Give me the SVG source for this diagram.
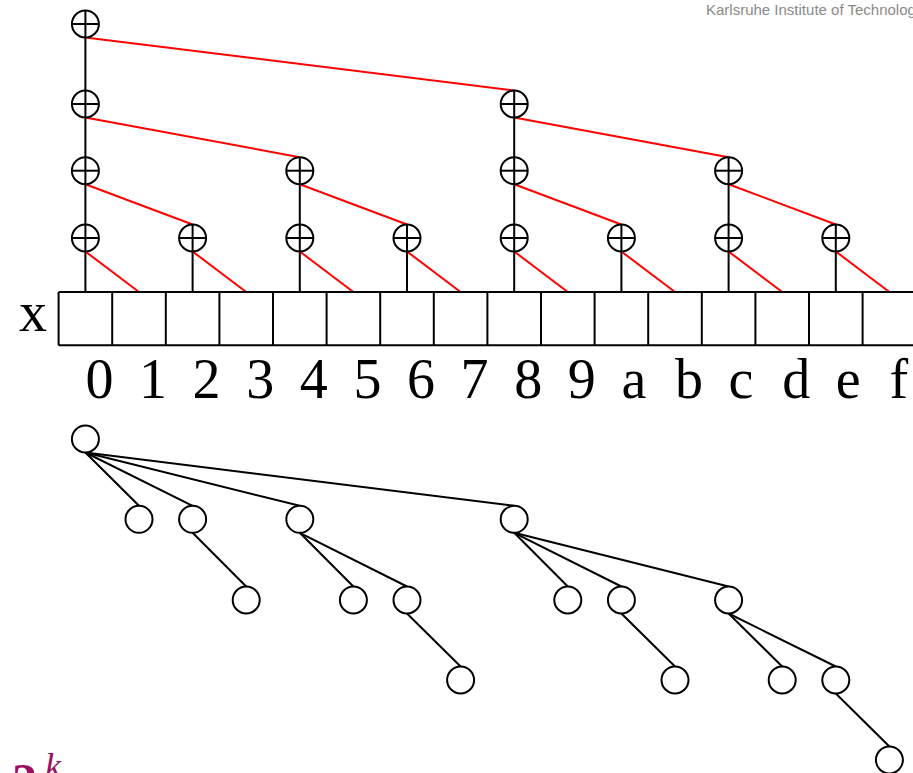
<svg xmlns="http://www.w3.org/2000/svg" width="913" height="773" viewBox="0 0 913 773">
<style>
.blk{stroke:#000;stroke-width:2;fill:none}
.red{stroke:#ff0000;stroke-width:2;fill:none}
.circ{stroke:#000;stroke-width:2;fill:#fff}
.lbl{font-family:"Liberation Serif","Times New Roman",serif;font-size:56px;fill:#000}
.kit{font-family:"Liberation Sans",Arial,sans-serif;font-size:15px;fill:#8a8a8a}
.pow{font-family:"Liberation Serif","Times New Roman",serif;fill:#9c1060}
</style>
<defs>
<g id="plus"><circle class="circ" cx="0" cy="0" r="13.5"/><line class="blk" x1="-13.5" y1="0" x2="13.5" y2="0"/><line class="blk" x1="0" y1="-13.5" x2="0" y2="13.5"/></g>
<circle id="tn" class="circ" cx="0" cy="0" r="13.5"/>
</defs>
<rect width="913" height="773" fill="#fff"/>
<text class="kit" x="706" y="15">Karlsruhe Institute of Technology</text>

<g id="connectors">
<line class="blk" x1="85.4" y1="10.5" x2="85.4" y2="292"/>
<line class="blk" x1="192.6" y1="224.5" x2="192.6" y2="292"/>
<line class="blk" x1="299.8" y1="157.2" x2="299.8" y2="292"/>
<line class="blk" x1="407" y1="224.5" x2="407" y2="292"/>
<line class="blk" x1="514.2" y1="90.5" x2="514.2" y2="292"/>
<line class="blk" x1="621.4" y1="224.5" x2="621.4" y2="292"/>
<line class="blk" x1="728.6" y1="157.2" x2="728.6" y2="292"/>
<line class="blk" x1="835.8" y1="224.5" x2="835.8" y2="292"/>
<line class="red" x1="85.4" y1="251.5" x2="139" y2="292"/>
<line class="red" x1="192.6" y1="251.5" x2="246.2" y2="292"/>
<line class="red" x1="299.8" y1="251.5" x2="353.4" y2="292"/>
<line class="red" x1="407" y1="251.5" x2="460.6" y2="292"/>
<line class="red" x1="514.2" y1="251.5" x2="567.8" y2="292"/>
<line class="red" x1="621.4" y1="251.5" x2="675" y2="292"/>
<line class="red" x1="728.6" y1="251.5" x2="782.2" y2="292"/>
<line class="red" x1="835.8" y1="251.5" x2="889.4" y2="292"/>
<line class="red" x1="85.4" y1="184.2" x2="192.6" y2="224.5"/>
<line class="red" x1="299.8" y1="184.2" x2="407" y2="224.5"/>
<line class="red" x1="514.2" y1="184.2" x2="621.4" y2="224.5"/>
<line class="red" x1="728.6" y1="184.2" x2="835.8" y2="224.5"/>
<line class="red" x1="85.4" y1="117.5" x2="299.8" y2="157.2"/>
<line class="red" x1="514.2" y1="117.5" x2="728.6" y2="157.2"/>
<line class="red" x1="85.4" y1="37.5" x2="514.2" y2="90.5"/>
<line class="blk" x1="85.4" y1="452.5" x2="139" y2="505.8"/>
<line class="blk" x1="85.4" y1="452.5" x2="192.6" y2="505.8"/>
<line class="blk" x1="85.4" y1="452.5" x2="299.8" y2="505.8"/>
<line class="blk" x1="85.4" y1="452.5" x2="514.2" y2="505.8"/>
<line class="blk" x1="192.6" y1="532.8" x2="246.2" y2="586.5"/>
<line class="blk" x1="299.8" y1="532.8" x2="353.4" y2="586.5"/>
<line class="blk" x1="299.8" y1="532.8" x2="407" y2="586.5"/>
<line class="blk" x1="407" y1="613.5" x2="460.6" y2="666.5"/>
<line class="blk" x1="514.2" y1="532.8" x2="567.8" y2="586.5"/>
<line class="blk" x1="514.2" y1="532.8" x2="621.4" y2="586.5"/>
<line class="blk" x1="514.2" y1="532.8" x2="728.6" y2="586.5"/>
<line class="blk" x1="621.4" y1="613.5" x2="675" y2="666.5"/>
<line class="blk" x1="728.6" y1="613.5" x2="782.2" y2="666.5"/>
<line class="blk" x1="728.6" y1="613.5" x2="835.8" y2="666.5"/>
<line class="blk" x1="835.8" y1="693.5" x2="889.4" y2="746.5"/>
</g>

<g id="plus-nodes">
<g id="p0-3"><use href="#plus" x="85.4" y="24"/></g>
<g id="p0-2"><use href="#plus" x="85.4" y="104"/></g>
<g id="p0-1"><use href="#plus" x="85.4" y="170.7"/></g>
<g id="p0-0"><use href="#plus" x="85.4" y="238"/></g>
<g id="p2-0"><use href="#plus" x="192.6" y="238"/></g>
<g id="p4-1"><use href="#plus" x="299.8" y="170.7"/></g>
<g id="p4-0"><use href="#plus" x="299.8" y="238"/></g>
<g id="p6-0"><use href="#plus" x="407" y="238"/></g>
<g id="p8-2"><use href="#plus" x="514.2" y="104"/></g>
<g id="p8-1"><use href="#plus" x="514.2" y="170.7"/></g>
<g id="p8-0"><use href="#plus" x="514.2" y="238"/></g>
<g id="pa-0"><use href="#plus" x="621.4" y="238"/></g>
<g id="pc-1"><use href="#plus" x="728.6" y="170.7"/></g>
<g id="pc-0"><use href="#plus" x="728.6" y="238"/></g>
<g id="pe-0"><use href="#plus" x="835.8" y="238"/></g>
</g>

<g id="array">
<line class="blk" x1="58.6" y1="292" x2="915" y2="292"/>
<line class="blk" x1="58.6" y1="345.3" x2="915" y2="345.3"/>
<path class="blk" d="M58.6 292V345.3M112.2 292V345.3M165.8 292V345.3M219.4 292V345.3M273 292V345.3M326.6 292V345.3M380.2 292V345.3M433.8 292V345.3M487.4 292V345.3M541 292V345.3M594.6 292V345.3M648.2 292V345.3M701.8 292V345.3M755.4 292V345.3M809 292V345.3M862.6 292V345.3"/>
<text class="lbl" x="19" y="331">x</text>
<g class="lbl">
<text x="85.4" y="398">0</text>
<text x="139" y="398">1</text>
<text x="192.6" y="398">2</text>
<text x="246.2" y="398">3</text>
<text x="299.8" y="398">4</text>
<text x="353.4" y="398">5</text>
<text x="407" y="398">6</text>
<text x="460.6" y="398">7</text>
<text x="514.2" y="398">8</text>
<text x="567.8" y="398">9</text>
<text x="621.4" y="398">a</text>
<text x="675" y="398">b</text>
<text x="728.6" y="398">c</text>
<text x="782.2" y="398">d</text>
<text x="835.8" y="398">e</text>
<text x="889.4" y="398">f</text>
</g>
</g>

<g id="tree-nodes">
<g id="t0"><use href="#tn" x="85.4" y="439"/></g>
<g id="t1"><use href="#tn" x="139" y="519.3"/></g>
<g id="t2"><use href="#tn" x="192.6" y="519.3"/></g>
<g id="t4"><use href="#tn" x="299.8" y="519.3"/></g>
<g id="t8"><use href="#tn" x="514.2" y="519.3"/></g>
<g id="t3"><use href="#tn" x="246.2" y="600"/></g>
<g id="t5"><use href="#tn" x="353.4" y="600"/></g>
<g id="t6"><use href="#tn" x="407" y="600"/></g>
<g id="t9"><use href="#tn" x="567.8" y="600"/></g>
<g id="ta"><use href="#tn" x="621.4" y="600"/></g>
<g id="tc"><use href="#tn" x="728.6" y="600"/></g>
<g id="t7"><use href="#tn" x="460.6" y="680"/></g>
<g id="tb"><use href="#tn" x="675" y="680"/></g>
<g id="td"><use href="#tn" x="782.2" y="680"/></g>
<g id="te"><use href="#tn" x="835.8" y="680"/></g>
<g id="tf"><use href="#tn" x="889.4" y="760"/></g>
</g>

<text class="pow" x="12" y="798" font-size="50" font-weight="bold">2</text>
<text class="pow" x="45" y="778" font-size="36" font-style="italic">k</text>
</svg>
